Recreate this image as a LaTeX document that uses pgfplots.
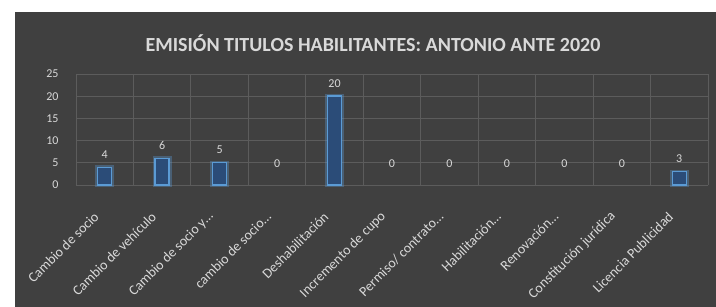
\documentclass[border=0pt]{standalone}
\usepackage{pgfplots}
\pgfplotsset{compat=1.18}
\usepackage{fontspec}
\setmainfont{Carlito}
\definecolor{bg}{HTML}{404040}
\definecolor{gridc}{HTML}{5C5C5C}
\definecolor{txt}{HTML}{D9D9D9}
\definecolor{barfill}{HTML}{2B4C78}
\definecolor{barline}{HTML}{5B9BD5}
\begin{document}
\begin{tikzpicture}
\useasboundingbox (0pt,0pt) rectangle (716pt,307pt);
\fill[white] (0pt,0pt) rectangle (716pt,307pt);
\fill[bg] (15pt,0pt) rectangle (716pt,295pt);
\node[text=txt, font=\bfseries\fontsize{20}{24}\selectfont] at (373pt,264pt) {EMISIÓN TITULOS HABILITANTES: ANTONIO ANTE 2020};
\begin{axis}[
  at={(76pt,122pt)}, anchor=south west, scale only axis,
  width=632pt, height=111pt,
  xmin=-0.5, xmax=10.5, ymin=0, ymax=25,
  ytick={0,5,10,15,20,25},
  xtick={0,1,2,3,4,5,6,7,8,9,10},
  xticklabels={{Cambio de socio}, {Cambio de vehículo}, {Cambio de socio y\ldots}, {cambio de socio\ldots}, {Deshabilitación}, {Incremento de cupo}, {Permiso/ contrato\ldots}, {Habilitación\ldots}, {Renovación\ldots}, {Constitución jurídica}, {Licencia Publicidad}},
  minor xtick={-0.5,0.5,1.5,2.5,3.5,4.5,5.5,6.5,7.5,8.5,9.5,10.5},
  xminorgrids, ymajorgrids,
  major grid style={gridc, line width=0.9pt},
  minor grid style={gridc, line width=0.9pt},
  axis line style={draw=none},
  major tick length=0pt, minor tick length=0pt,
  /pgf/number format/assume math mode=true,
  yticklabel style={text=txt, font=\fontsize{12}{14}\selectfont, xshift=-14pt},
  xticklabel style={xshift=-6pt, yshift=-27pt, rotate=45, anchor=east, text=txt, font=\fontsize{14}{17}\selectfont},
  ybar, bar shift=0pt,
  clip=false,
]
\addplot[draw=barline, draw opacity=0.35, line width=4pt, fill=none, bar width=15pt] coordinates {(0,4) (1,6) (2,5) (4,20) (10,3)};
\addplot[fill=barfill, draw=barline, line width=1.4pt, bar width=14pt,
  nodes near coords, nodes near coords style={text=txt, font=\fontsize{12}{14}\selectfont, yshift=5pt}] coordinates {(0,4) (1,6) (2,5) (4,20) (10,3)};
\addplot[draw=none, fill=none, bar width=14pt,
  nodes near coords, nodes near coords style={text=txt, font=\fontsize{12}{14}\selectfont, yshift=14pt}] coordinates {(3,0) (5,0) (6,0) (7,0) (8,0) (9,0)};
\end{axis}
\end{tikzpicture}
\end{document}
